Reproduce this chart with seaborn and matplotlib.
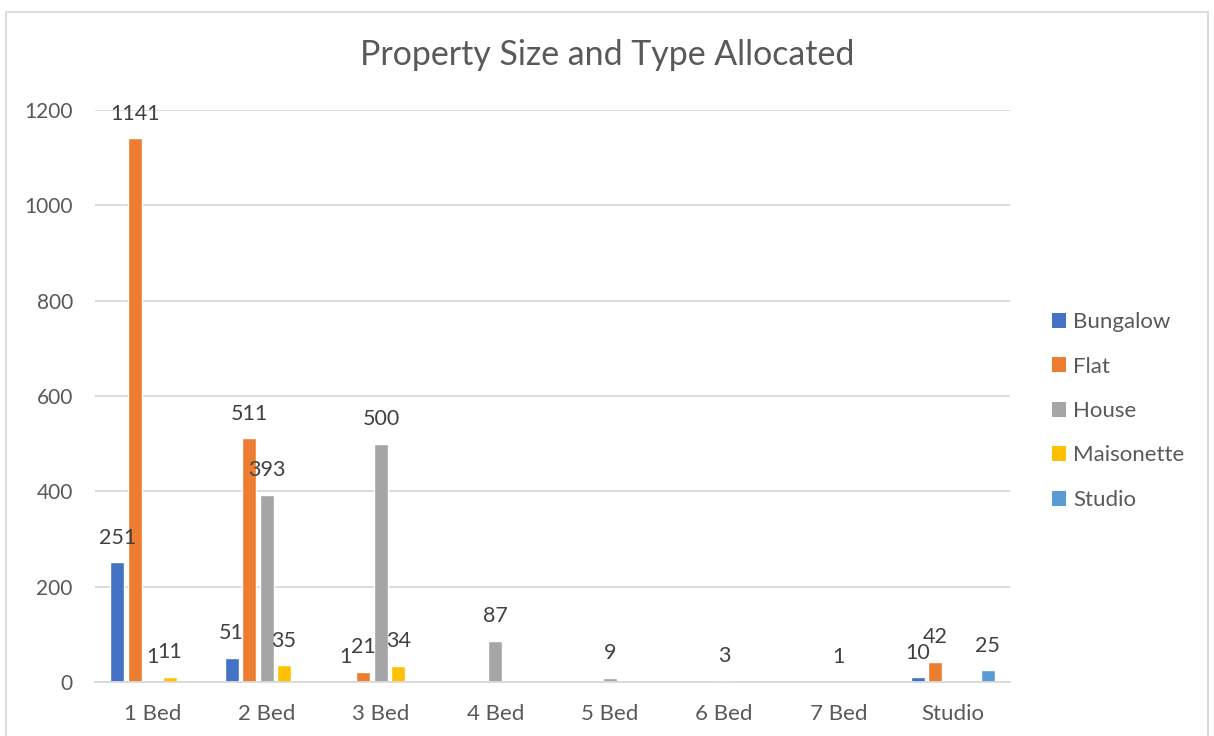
import matplotlib
matplotlib.use("Agg")
import matplotlib.pyplot as plt
import seaborn as sns
import pandas as pd
import numpy as np
from matplotlib.patches import Rectangle, Patch

categories = ["1 Bed", "2 Bed", "3 Bed", "4 Bed", "5 Bed", "6 Bed", "7 Bed", "Studio"]
series = ["Bungalow", "Flat", "House", "Maisonette", "Studio"]
bungalow = [251, 51, 1, None, None, None, None, 10]
flat = [1141, 511, 21, None, None, None, None, 42]
house = [1, 393, 500, 87, 9, 3, 1, None]
maisonette = [11, 35, 34, None, None, None, None, None]
studio = [None, None, None, None, None, None, None, 25]
colors = ["#4472C4", "#ED7D31", "#A5A5A5", "#FFC000", "#5B9BD5"]
title = "Property Size and Type Allocated"
yticks = [0, 200, 400, 600, 800, 1000, 1200]

rows = []
for name, vals in zip(series, [bungalow, flat, house, maisonette, studio]):
    for c, v in zip(categories, vals):
        if v is not None:
            rows.append({"Size": c, "Type": name, "Count": v})
df = pd.DataFrame(rows)

sns.set_theme(style="white")
plt.rcParams["font.family"] = ["Lato", "DejaVu Sans"]
text_color = "#595959"
grid_color = "#D9D9D9"

fig = plt.figure(figsize=(12.14, 7.36), dpi=100)
ax = fig.add_axes([95/1214, 1-682/736, (1010-95)/1214, (682-110)/736])

sns.barplot(data=df, x="Size", y="Count", hue="Type", order=categories,
            hue_order=series, palette=colors, width=0.765, gap=0.2,
            dodge=True, ax=ax, legend=False, saturation=1, errorbar=None)

for cont in ax.containers:
    ax.bar_label(cont, fmt="%d", padding=10.5, fontsize=15.5, color="#404040")

ax.set_ylim(0, 1200)
ax.set_xlim(-0.5, len(categories) - 0.5)
ax.set_yticks(yticks)
ax.set_yticklabels([str(t) for t in yticks])
ax.yaxis.grid(True, color=grid_color, linewidth=1.3)
ax.set_axisbelow(True)
for s in ["top", "right", "left"]:
    ax.spines[s].set_visible(False)
ax.spines["bottom"].set_color(grid_color)
ax.spines["bottom"].set_linewidth(1.3)
ax.tick_params(axis="y", length=0, pad=16, labelsize=15, labelcolor=text_color)
ax.tick_params(axis="x", length=0, pad=16, labelsize=16, labelcolor=text_color)
ax.set_xlabel("")
ax.set_ylabel("")

handles = [Patch(facecolor=c, edgecolor="none") for c in colors]
fig.legend(handles, series, loc="center left", bbox_to_anchor=(1052/1214, 1-411/736),
           frameon=False, fontsize=16, labelcolor=text_color, handlelength=0.65,
           handleheight=0.65, handletextpad=0.3, labelspacing=1.1, borderaxespad=0,
           borderpad=0)

fig.text(0.5, 1-55/736, title, ha="center", va="center", fontsize=24.4, color=text_color)

fig.patches.append(Rectangle((6/1214, -0.02), (1208-6)/1214, 1-12/736+0.02,
                             transform=fig.transFigure, fill=False,
                             edgecolor=grid_color, linewidth=1.3))

fig.savefig("out.png", dpi=100)
